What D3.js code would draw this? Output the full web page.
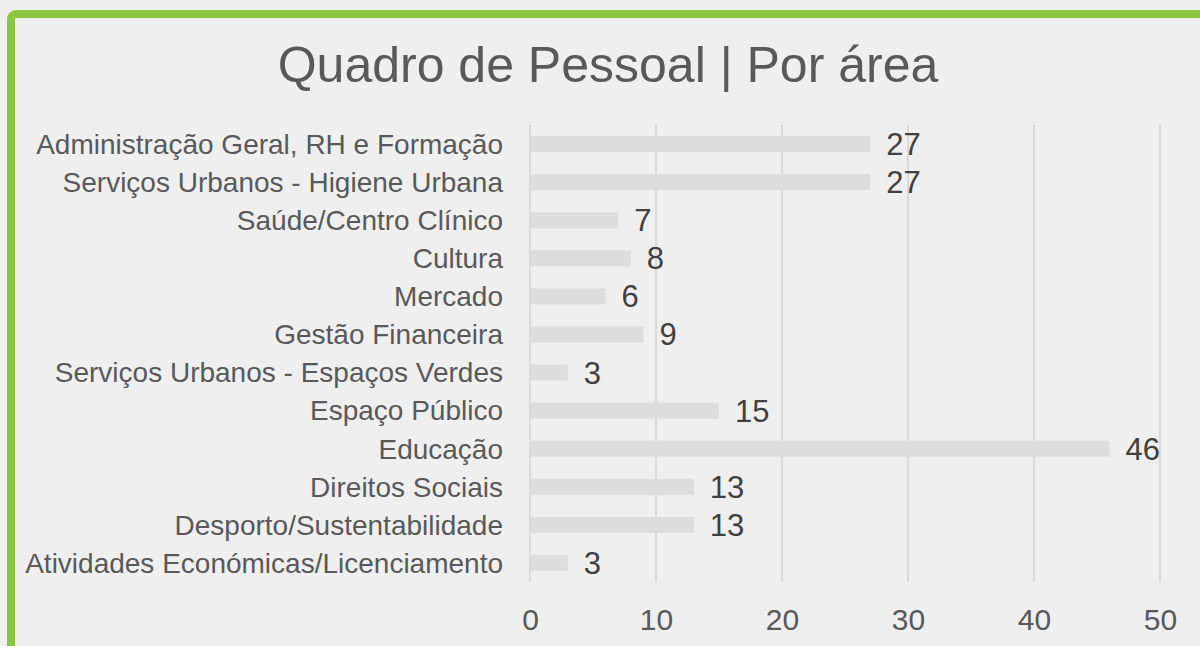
<!DOCTYPE html>
<html>
<head>
<meta charset="utf-8">
<script src="https://cdn.jsdelivr.net/npm/d3@7"></script>
<style>
  html, body { margin: 0; padding: 0; background: #efefef; }
  svg { display: block; }
  text { font-family: "Liberation Sans", Arial, sans-serif; }
</style>
</head>
<body>
<svg id="chart" width="1200" height="646"></svg>
<script>
const categories = [
  "Administração Geral, RH e Formação",
  "Serviços Urbanos - Higiene Urbana",
  "Saúde/Centro Clínico",
  "Cultura",
  "Mercado",
  "Gestão Financeira",
  "Serviços Urbanos - Espaços Verdes",
  "Espaço Público",
  "Educação",
  "Direitos Sociais",
  "Desporto/Sustentabilidade",
  "Atividades Económicas/Licenciamento"
];
const values = [27, 27, 7, 8, 6, 9, 3, 15, 46, 13, 13, 3];
const tickValues = [0, 10, 20, 30, 40, 50];
const title = "Quadro de Pessoal | Por área";

const svg = d3.select("#chart");

// background + green frame
svg.append("rect").attr("width", 1200).attr("height", 646).attr("fill", "#efefef");
svg.append("rect")
  .attr("x", 11).attr("y", 14)
  .attr("width", 1300).attr("height", 800)
  .attr("rx", 5).attr("ry", 5)
  .attr("fill", "#efefef")
  .attr("stroke", "#8cc63f")
  .attr("stroke-width", 8);

// title
svg.append("text")
  .attr("x", 608).attr("y", 82)
  .attr("text-anchor", "middle")
  .attr("font-size", 50)
  .attr("fill", "#595959")
  .text(title);

const x = d3.scaleLinear().domain([0, 50]).range([530, 1160]);
const y = d3.scaleBand().domain(categories).range([125, 582])
  .paddingInner(0.58).paddingOuter(0.29);

// gridlines
svg.append("g").selectAll("line").data(tickValues).join("line")
  .attr("x1", d => x(d)).attr("x2", d => x(d))
  .attr("y1", 125).attr("y2", 582)
  .attr("stroke", "#d9d9d9").attr("stroke-width", 2);

// bars
const data = categories.map((c, i) => ({ c, v: values[i] }));
svg.append("g").selectAll("rect").data(data).join("rect")
  .attr("x", x(0))
  .attr("y", d => y(d.c))
  .attr("width", d => x(d.v) - x(0))
  .attr("height", y.bandwidth())
  .attr("fill", "#dddddd");

// value labels
svg.append("g").selectAll("text").data(data).join("text")
  .attr("x", d => x(d.v) + 16)
  .attr("y", d => y(d.c) + y.bandwidth() / 2 + 11)
  .attr("font-size", 31)
  .attr("fill", "#404040")
  .text(d => d.v);

// category axis labels
const yAxis = d3.axisLeft(y).tickSize(0).tickPadding(0);
const gy = svg.append("g").attr("transform", "translate(503,0)").call(yAxis);
gy.select(".domain").remove();
gy.selectAll("text")
  .attr("font-size", 28)
  .attr("fill", "#595959")
  .attr("font-family", "'Liberation Sans', Arial, sans-serif")
  .attr("dy", "0.35em");

// x axis tick labels
const xAxis = d3.axisBottom(x).tickValues(tickValues).tickSize(0).tickPadding(0);
const gx = svg.append("g").attr("transform", "translate(0,609)").call(xAxis);
gx.select(".domain").remove();
gx.selectAll("text")
  .attr("font-size", 30)
  .attr("fill", "#595959")
  .attr("font-family", "'Liberation Sans', Arial, sans-serif")
  .attr("dy", "0.71em")
  .attr("y", 0);
</script>
</body>
</html>
